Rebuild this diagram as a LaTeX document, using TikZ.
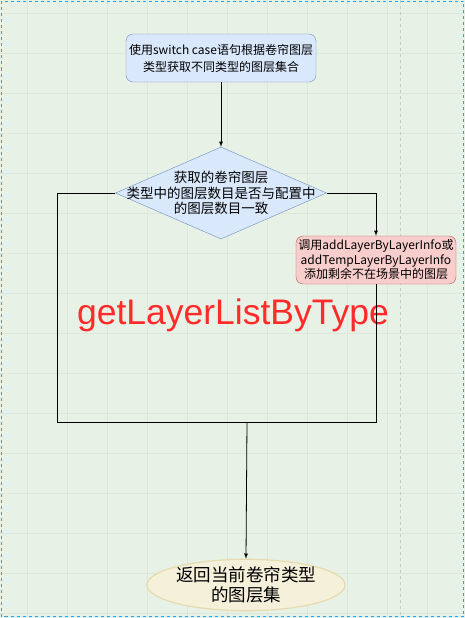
\documentclass[tikz,border=0pt]{standalone}
\usepackage{fontspec}
\setmainfont{Liberation Sans}
\newfontfamily\cjk{Noto Sans CJK SC}
\usepackage{tikz}
\usetikzlibrary{shapes.geometric,positioning}
\definecolor{colorbg}{HTML}{E8F1E6}
\definecolor{colorgrid}{HTML}{DDE8DB}
\definecolor{colorpage}{HTML}{C4CCC4}
\definecolor{colorsel}{HTML}{29A3EE}
\definecolor{colorblue}{HTML}{DAE8FC}
\definecolor{colorbluebd}{HTML}{6C8EBF}
\definecolor{colorred}{HTML}{F8CECC}
\definecolor{colorredbd}{HTML}{B85450}
\definecolor{coloryel}{HTML}{F4F0DA}
\definecolor{coloryelbd}{HTML}{E6DAAE}
\definecolor{colortitle}{HTML}{FF2A2A}
\tikzset{
  stepbox/.style={draw=colorbluebd, fill=colorblue, rounded corners=2.5mm,
    minimum width=190pt, minimum height=48pt, align=center, inner sep=1pt,
    font=\cjk\fontsize{12}{17}\selectfont},
  testbox/.style={diamond, draw=colorbluebd, fill=colorblue, aspect=2.3,
    minimum width=211pt, minimum height=92pt, inner sep=0pt},
  testtext/.style={align=center, inner sep=0pt,
    font=\cjk\fontsize{13.5}{15.5}\selectfont},
  addbox/.style={draw=colorredbd, fill=colorred, rounded corners=2.5mm,
    minimum width=160pt, minimum height=48pt, align=center, inner sep=1pt,
    font=\cjk\fontsize{12}{14.5}\selectfont},
  endbox/.style={ellipse, draw=coloryelbd, fill=coloryel, line width=1.2pt,
    minimum width=162pt, minimum height=46pt, inner sep=0pt, align=center,
    font=\cjk\fontsize{17.5}{20}\selectfont},
  edgeflow/.style={black, line width=0.8pt},
  edgego/.style={black, line width=0.8pt, -latex}
}

\begin{document}
\begin{tikzpicture}[x=1pt, y=-1pt]
\useasboundingbox (0,0) rectangle (465,618);
% canvas
\fill[colorbg] (0,0) rectangle (465,618);
\foreach \gx in {27,67,...,465} \draw[colorgrid, line width=0.6pt] (\gx,0) -- (\gx,618);
\foreach \gy in {13,53,...,618} \draw[colorgrid, line width=0.6pt] (0,\gy) -- (465,\gy);
\draw[colorpage, dashed, line width=0.6pt] (400,0) -- (400,618);
\draw[colorsel, dashed, line width=0.8pt] (1.5,1.5) rectangle (463.5,616.5);

\node[stepbox] (sel) at (221,58) {使用switch case语句根据卷帘图层\\类型获取不同类型的图层集合};
\node[testbox] (cmp) at (221,193) {};
\node[testtext] (cmptext) at (cmp.center) {获取的卷帘图层\\类型中的图层数目是否与配置中\\的图层数目一致};
\node[addbox] (add) at (376,260) {调用addLayerByLayerInfo或\\addTempLayerByLayerInfo\\添加剩余不在场景中的图层};
\node[endbox] (ret) at (246,585) {返回当前卷帘类型\\的图层集};
\node[text=colortitle, font=\fontsize{35.5}{40}\selectfont, inner sep=0pt,
  anchor=base] (name) at (233,324) {getLayerListByType};

\coordinate (jl) at (57,422);
\coordinate (mg) at (247,422);

\draw[edgego] (sel) -- (cmp);
\draw[edgego] (cmp.east) -| (add.north);
\draw[edgeflow] (cmp.west) -| (jl) -- (mg);
\draw[edgeflow] (add.south) |- (mg);
\draw[edgego] (mg) -- (ret.north);
\end{tikzpicture}
\end{document}
